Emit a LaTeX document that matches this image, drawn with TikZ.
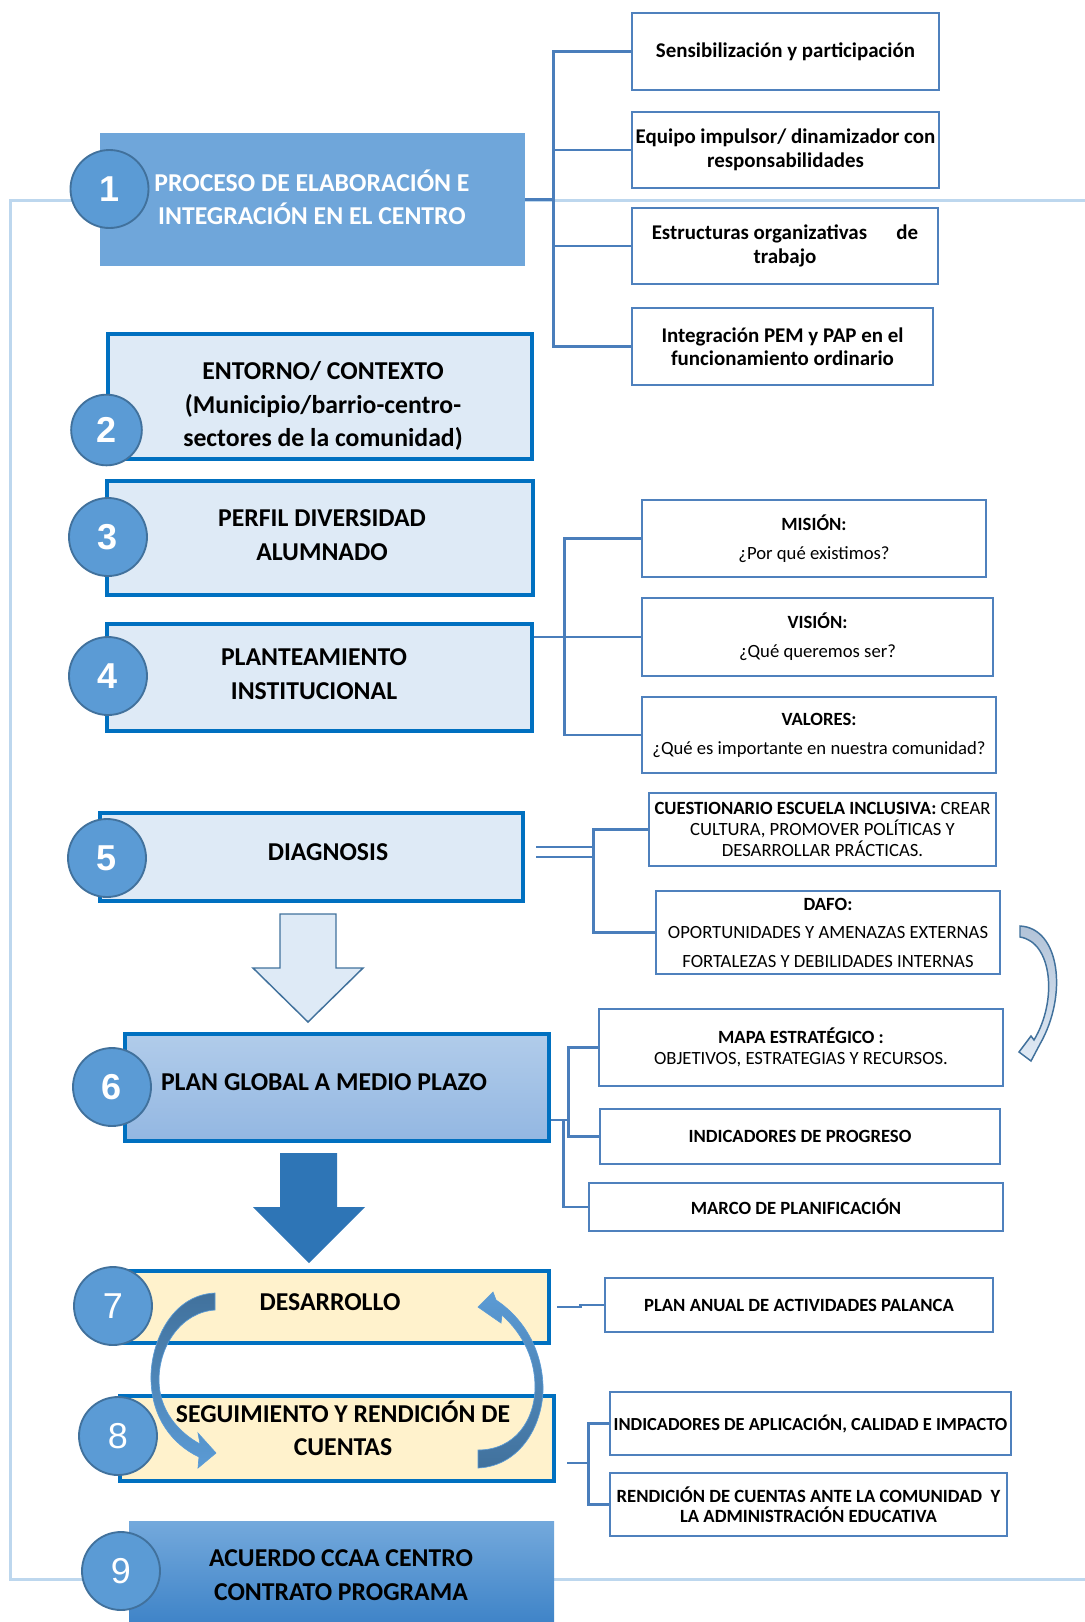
\documentclass[tikz,border=0pt]{standalone}
\usepackage{fontspec}
\setmainfont{Carlito}
\newfontfamily\numfont{Liberation Sans}
\usetikzlibrary{calc}
\definecolor{frameblue}{HTML}{BDD7EE}
\definecolor{boxone}{HTML}{6FA6DA}
\definecolor{circfill}{HTML}{5B9BD5}
\definecolor{circdraw}{HTML}{41719C}
\definecolor{mainborder}{HTML}{0070C0}
\definecolor{lightfill}{HTML}{DEEAF6}
\definecolor{yellowfill}{HTML}{FFF2CC}
\definecolor{rborder}{HTML}{4F81BD}
\definecolor{connc}{HTML}{4A7EBB}
\definecolor{sixtop}{HTML}{B1CCEA}
\definecolor{sixbot}{HTML}{93B7E2}
\definecolor{ninetop}{HTML}{74A9DC}
\definecolor{ninebot}{HTML}{3F84C8}
\definecolor{darkarrow}{HTML}{2E75B6}
\definecolor{dafotop}{HTML}{B2C3D8}
\definecolor{dafobot}{HTML}{E0EAF5}
\definecolor{cycdark}{HTML}{41719C}
\definecolor{cyclight}{HTML}{5B9BD5}
\newcommand\placebox[7]{\node[#6, minimum width={(#3-#2)*0.75pt}, minimum height={(#5-#4)*0.75pt}] (#1) at ({(#2+#3)/2},{(#4+#5)/2}) {#7};}
\begin{document}
\begin{tikzpicture}[x=0.75pt,y=-0.75pt,
 mainbox/.style={draw=mainborder, line width=3.4pt, fill=lightfill, rectangle, inner sep=0pt},
 rbox/.style={draw=rborder, line width=1.5pt, fill=white, rectangle, inner sep=0pt, align=center},
 conn/.style={draw=connc, line width=1.9pt},
 numc/.style={circle, fill=circfill, draw=circdraw, line width=1.4pt, minimum size=58.5pt, inner sep=0pt, text=white},
 bignum/.style={font=\numfont\bfseries\fontsize{27}{27}\selectfont},
 regnum/.style={font=\numfont\fontsize{27}{27}\selectfont},
 bigtxt/.style={align=center, font=\bfseries\fontsize{19.3}{25}\selectfont, inner sep=0pt},
 atxt/.style={font=\bfseries\fontsize{15.7}{17.6}\selectfont},
 ctxt/.style={font=\bfseries\fontsize{14}{15.6}\selectfont},
 frameline/.style={draw=frameblue, line width=2.25pt},
 cycl/.style={draw=cyclight, line width=0.5pt, top color=cycdark, bottom color=cyclight},
 cycr/.style={draw=cyclight, line width=0.5pt, top color=cyclight, bottom color=cycdark},
 ]
\useasboundingbox (0,0) rectangle (1085,1622);
% outer frame
\draw[frameline] (1085,200) -- (10,200) -- (10,1579) -- (1085,1579);

% main boxes
\placebox{b1}{100}{525}{133}{266}{fill=boxone, inner sep=0pt}{}
\placebox{b2}{108}{532}{334}{459}{mainbox}{}
\placebox{b3}{107}{533}{481}{595}{mainbox}{}
\placebox{b4}{107}{532}{624}{731}{mainbox}{}
\placebox{b5}{100}{523}{813}{901}{mainbox}{}
\placebox{b6}{125}{549}{1034}{1141}{mainbox, top color=sixtop, bottom color=sixbot}{}
\placebox{b7}{120}{549}{1271}{1343}{mainbox, fill=yellowfill}{}
\placebox{b8}{120}{554}{1396}{1481}{mainbox, fill=yellowfill}{}
\placebox{b9}{129}{554}{1521}{1622}{draw=none, top color=ninetop, bottom color=ninebot, inner sep=0pt}{}

% main texts
\node[bigtxt, text=white] (t1) at (312,197) {PROCESO DE ELABORACIÓN E\\INTEGRACIÓN EN EL CENTRO};
\node[bigtxt] (t2) at (323,406) {ENTORNO/ CONTEXTO\\(Municipio/barrio-centro-\\sectores de la comunidad)};
\node[bigtxt] (t3) at (322,535) {PERFIL DIVERSIDAD\\ALUMNADO};
\node[bigtxt] (t4) at (314,674) {PLANTEAMIENTO\\INSTITUCIONAL};
\node[bigtxt] (t5) at (328,852) {DIAGNOSIS};
\node[bigtxt] (t6) at (324,1082) {PLAN GLOBAL A MEDIO PLAZO};
\node[bigtxt] (t7) at (330,1302) {DESARROLLO};
\node[bigtxt] (t8) at (343,1428) {SEGUIMIENTO Y RENDICIÓN DE\\CUENTAS};
\node[bigtxt] (t9) at (341,1575) {ACUERDO CCAA CENTRO\\CONTRATO PROGRAMA};

% right boxes
\placebox{a1}{632}{939}{13}{90}{rbox, atxt}{Sensibilización y participación}
\placebox{a2}{632}{939}{112}{188}{rbox, atxt}{Equipo impulsor/ dinamizador con\\responsabilidades}
\placebox{a3}{632}{938}{208}{284}{rbox, atxt}{Estructuras organizativas\hspace{1.4em}de\\trabajo}
\placebox{a4}{632}{933}{308}{385}{rbox, atxt}{Integración PEM y PAP en el\\funcionamiento ordinario}

\placebox{m1}{642}{986}{500}{577}{rbox, font=\fontsize{14}{21.7}\selectfont}{\textbf{MISIÓN:}\\¿Por qué existimos?}
\placebox{m2}{642}{993}{598}{676}{rbox, font=\fontsize{14}{21.7}\selectfont}{\textbf{VISIÓN:}\\¿Qué queremos ser?}
\placebox{m3}{642}{996}{697}{773}{rbox, font=\fontsize{14}{21.7}\selectfont}{\textbf{VALORES:}\\¿Qué es importante en nuestra comunidad?}

\placebox{c1}{649}{996}{793}{866}{rbox, font=\fontsize{14}{15.5}\selectfont}{\textbf{CUESTIONARIO ESCUELA INCLUSIVA:} CREAR\\CULTURA, PROMOVER POLÍTICAS Y\\DESARROLLAR PRÁCTICAS.}
\placebox{c2}{656}{1000}{891}{974}{rbox, font=\fontsize{14}{21.4}\selectfont}{\textbf{DAFO:}\\OPORTUNIDADES Y AMENAZAS EXTERNAS\\FORTALEZAS Y DEBILIDADES INTERNAS}

\placebox{p1}{599}{1003}{1009}{1086}{rbox, font=\fontsize{14}{15.8}\selectfont}{\textbf{MAPA ESTRATÉGICO :}\\OBJETIVOS, ESTRATEGIAS Y RECURSOS.}
\placebox{p2}{600}{1000}{1109}{1164}{rbox, ctxt}{INDICADORES DE PROGRESO}
\placebox{p3}{589}{1003}{1183}{1231}{rbox, ctxt}{MARCO DE PLANIFICACIÓN}
\placebox{d1}{605}{993}{1278}{1332}{rbox, ctxt}{PLAN ANUAL DE ACTIVIDADES PALANCA}
\placebox{s1}{610}{1011}{1392}{1455}{rbox, font=\bfseries\fontsize{13.8}{15.5}\selectfont}{INDICADORES DE APLICACIÓN, CALIDAD E IMPACTO}
\placebox{s2}{610}{1007}{1473}{1536}{rbox, font=\bfseries\fontsize{14}{15.4}\selectfont}{RENDICIÓN DE CUENTAS ANTE LA COMUNIDAD\ \ Y\\LA ADMINISTRACIÓN EDUCATIVA}

% connectors
\coordinate (j1) at ($(b1.east)+(28,0)$);
\draw[conn] (b1.east) -- (j1);
\draw[conn] (a1.west) -| (j1) |- (a4.west);
\draw[conn] (j1) |- (a2.west);
\draw[conn] (j1) |- (a3.west);

\coordinate (j4) at ($(b4.east |- m2.west)+(30,0)$);
\draw[conn] (b4.east |- m2.west) -- (m2.west);
\draw[conn] (m1.west) -| (j4) |- (m3.west);

\coordinate (j5) at ($(b5.east)+(68,0)$);
\draw[conn] ($(b5.east)+(11,-10)$) -- ++(57,0);
\draw[conn] ($(b5.east)+(11,0)$) -- (j5);
\draw[conn] (c1.west) -| (j5) |- (c2.west);

\coordinate (j6) at ($(b6.east)+(0,32.5)$);
\draw[conn] (j6) -- ++(17,0) coordinate (k6);
\draw[conn] (p1.west) -| (k6) |- (p2.west);
\draw[conn] ($(j6)+(12,0)$) |- (p3.west);

\draw[conn] ($(b7.east)+(6,0)$) -- ++(23,0) |- (d1.west);

\draw[conn] ($(b8.east)+(11,24.5)$) -- ++(21,0) coordinate (k8);
\draw[conn] (s1.west) -| (k8) |- (s2.west);

% block arrows
\draw[draw=circdraw, line width=1.1pt, fill=lightfill] (280,914) -- (336,914) -- (336,968) -- (363,968) -- (308,1022) -- (253,968) -- (280,968) -- cycle;
\fill[darkarrow] (280,1153) -- (337,1153) -- (337,1207) -- (365,1207) -- (309,1263) -- (253,1207) -- (280,1207) -- cycle;

% curved arrow from DAFO to MAPA
\draw[draw=circdraw, line width=1.1pt, top color=dafotop, bottom color=dafobot] (1020,926) .. controls (1060,928) and (1068,995) .. (1040,1044) -- (1031,1061) -- (1019,1052) -- (1031,1036) -- (1034,1040) .. controls (1058,1000) and (1052,942) .. (1020,937) -- cycle;

% cycle arrows
\path[cycl] (215,1293) .. controls (170,1295) and (150,1345) .. (151,1380) .. controls (152,1418) and (172,1444) .. (199,1457) -- (198,1468) -- (216,1453) -- (198,1433) -- (200,1444) .. controls (178,1432) and (159,1410) .. (159,1380) .. controls (159,1345) and (182,1312) .. (215,1310) -- cycle;
\path[cycr] (478,1468) .. controls (522,1466) and (544,1422) .. (543,1386) .. controls (542,1352) and (526,1320) .. (496,1300) -- (493,1292) -- (478,1307) -- (501,1323) -- (502,1315) .. controls (524,1335) and (535,1360) .. (535,1387) .. controls (535,1420) and (515,1450) .. (478,1450) -- cycle;

% number circles
\node[numc, bignum] (n1) at (109.5,189) {1};
\node[numc, minimum size=53pt, bignum] (n2) at (106.5,430) {2};
\node[numc, bignum] (n3) at (108,537) {3};
\node[numc, bignum] (n4) at (108,676) {4};
\node[numc, bignum] (n5) at (107,858) {5};
\node[numc, bignum] (n6) at (112,1087) {6};
\node[numc, regnum] (n7) at (113,1306) {7};
\node[numc, regnum] (n8) at (118,1436) {8};
\node[numc, regnum] (n9) at (121,1571) {9};
\end{tikzpicture}
\end{document}
